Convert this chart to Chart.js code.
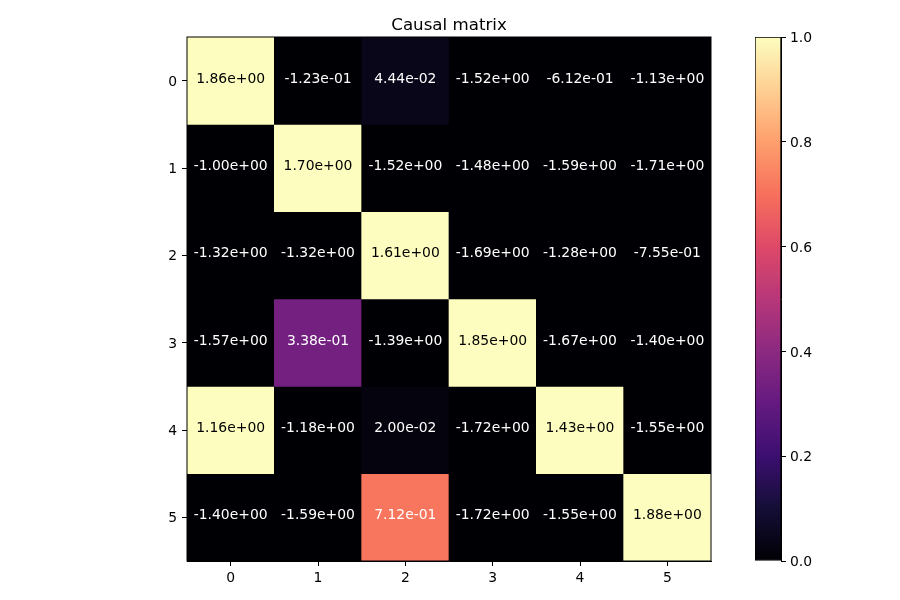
<!DOCTYPE html>
<html>
<head>
<meta charset="utf-8">
<script src="https://cdn.jsdelivr.net/npm/chart.js@4"></script>
<style>
  body { margin: 0; background: #fff; }
  #main { position: absolute; left: 0; top: 0; }
  #cbar { position: absolute; left: 720px; top: 0; }
</style>
</head>
<body>
<canvas id="main" width="720" height="600"></canvas>
<canvas id="cbar" width="180" height="600"></canvas>
<script>
// causal matrix values, row by row
const title = 'Causal matrix';
const labels = ['0', '1', '2', '3', '4', '5'];
const row0 = [1.86, -0.123, 0.0444, -1.52, -0.612, -1.13];
const row1 = [-1.00, 1.70, -1.52, -1.48, -1.59, -1.71];
const row2 = [-1.32, -1.32, 1.61, -1.69, -1.28, -0.755];
const row3 = [-1.57, 0.338, -1.39, 1.85, -1.67, -1.40];
const row4 = [1.16, -1.18, 0.0200, -1.72, 1.43, -1.55];
const row5 = [-1.40, -1.59, 0.712, -1.72, -1.55, 1.88];
const rows = [row0, row1, row2, row3, row4, row5];
const cbarTicks = [0, 0.2, 0.4, 0.6, 0.8, 1.0];

// magma colormap stops
const magmaStops = ['#000004', '#140e36', '#3b0f70', '#641a80', '#8c2981', '#b73779',
  '#de4968', '#f7705c', '#fe9f6d', '#fecf92', '#fcfdbf'];

function hexRgb(h) {
  return [parseInt(h.slice(1, 3), 16), parseInt(h.slice(3, 5), 16), parseInt(h.slice(5, 7), 16)];
}

function magma(v) {
  v = Math.max(0, Math.min(1, v));
  const p = v * 10;
  const i = Math.min(9, Math.floor(p));
  const t = p - i;
  const a = hexRgb(magmaStops[i]), b = hexRgb(magmaStops[i + 1]);
  const c = a.map((x, k) => Math.round(x + (b[k] - x) * t));
  return 'rgb(' + c.join(',') + ')';
}

function fmt(v) {
  const s = v.toExponential(2);
  const [m, e] = s.split('e');
  return m + 'e' + e[0] + e.slice(1).padStart(2, '0');
}

const font = { family: 'DejaVu Sans', size: 13.9 };

const cellText = {
  id: 'cellText',
  afterDatasetsDraw(chart) {
    const ctx = chart.ctx;
    const a = chart.chartArea;
    ctx.save();
    ctx.font = '13.9px "DejaVu Sans"';
    ctx.textAlign = 'center';
    ctx.textBaseline = 'middle';
    rows.forEach((row, i) => {
      const meta = chart.getDatasetMeta(i);
      meta.data.forEach((bar, j) => {
        const p = bar.getCenterPoint();
        ctx.fillStyle = row[j] > 0.9 ? '#000' : '#fff';
        ctx.fillText(fmt(row[j]), p.x, p.y - 1.5);
      });
    });
    ctx.strokeStyle = '#000';
    ctx.lineWidth = 1;
    ctx.strokeRect(a.left, a.top, a.right - a.left, a.bottom - a.top);
    // title over the plot area
    ctx.fillStyle = '#000';
    ctx.font = '16.67px "DejaVu Sans"';
    ctx.textBaseline = 'alphabetic';
    ctx.fillText(title, (a.left + a.right) / 2, 30);
    ctx.restore();
  }
};

new Chart(document.getElementById('main'), {
  type: 'bar',
  data: {
    labels: labels,
    datasets: rows.map((row, r) => ({
      data: row.map(() => [r - 0.5, r + 0.5]),
      backgroundColor: row.map(v => magma(v)),
      borderWidth: 0,
      grouped: false,
      barPercentage: 1,
      categoryPercentage: 1
    }))
  },
  options: {
    responsive: false,
    devicePixelRatio: 1,
    animation: false,
    layout: { padding: { left: 157, right: 9, top: 37, bottom: 9 } },
    plugins: {
      legend: { display: false },
      tooltip: { enabled: false },
      title: { display: false }
    },
    scales: {
      x: {
        offset: true,
        grid: { offset: false, drawOnChartArea: false, tickLength: 5, tickColor: '#000' },
        border: { color: '#000' },
        ticks: { color: '#000', font: font, padding: 4 },
        afterFit(s) { s.height = 30; }
      },
      y: {
        type: 'linear',
        reverse: true,
        min: -0.5,
        max: 5.5,
        grid: { drawOnChartArea: false, tickLength: 5, tickColor: '#000' },
        border: { color: '#000' },
        ticks: { color: '#000', font: font, padding: 5, labelOffset: 1.5 },
        afterBuildTicks(s) { s.ticks = labels.map(l => ({ value: Number(l) })); },
        afterFit(s) { s.width = 30; }
      }
    }
  },
  plugins: [cellText]
});

new Chart(document.getElementById('cbar'), {
  type: 'bar',
  data: {
    labels: [''],
    datasets: [{
      data: [[0, 1]],
      backgroundColor(c) {
        const a = c.chart.chartArea;
        if (!a) return '#000';
        const g = c.chart.ctx.createLinearGradient(0, a.bottom, 0, a.top);
        magmaStops.forEach((col, k) => g.addColorStop(k / 10, col));
        return g;
      },
      borderColor: '#000',
      borderWidth: 1,
      borderSkipped: false,
      barPercentage: 1,
      categoryPercentage: 1
    }]
  },
  options: {
    responsive: false,
    devicePixelRatio: 1,
    animation: false,
    layout: { padding: { left: 35, right: 69, top: 37, bottom: 39 } },
    plugins: { legend: { display: false }, tooltip: { enabled: false } },
    scales: {
      x: { display: false },
      y: {
        position: 'right',
        min: 0,
        max: 1,
        grid: { drawOnChartArea: false, tickLength: 5, tickColor: '#000' },
        border: { color: '#000' },
        ticks: { color: '#000', font: font, padding: 4, labelOffset: 1.5, callback: v => v.toFixed(1) },
        afterBuildTicks(s) { s.ticks = cbarTicks.map(v => ({ value: v })); },
        afterFit(s) { s.width = 50; }
      }
    }
  }
});
</script>
</body>
</html>
